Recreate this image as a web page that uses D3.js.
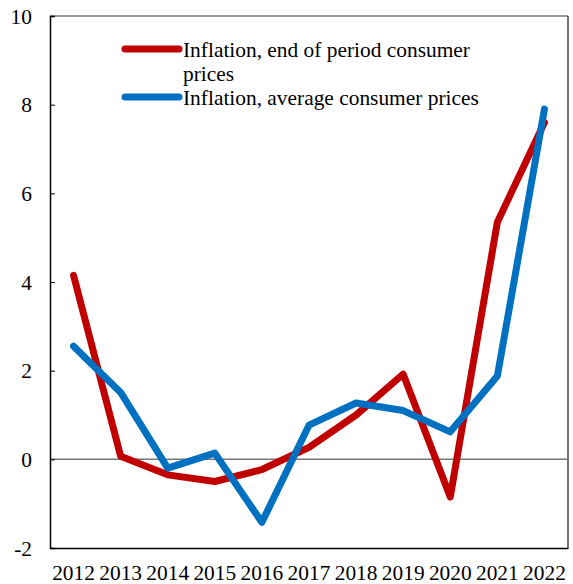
<!DOCTYPE html>
<html>
<head>
<meta charset="utf-8">
<script src="https://cdn.jsdelivr.net/npm/d3@7"></script>
<style>
  body { margin: 0; background: #fff; }
</style>
</head>
<body>
<div id="chart"></div>
<script>
const years = ["2012", "2013", "2014", "2015", "2016", "2017", "2018", "2019", "2020", "2021", "2022"];
const endOfPeriod = [4.15, 0.07, -0.35, -0.5, -0.23, 0.27, 1.0, 1.92, -0.85, 5.35, 7.6];
const average = [2.55, 1.51, -0.2, 0.14, -1.42, 0.77, 1.27, 1.1, 0.62, 1.88, 7.9];
const yTicks = [-2, 0, 2, 4, 6, 8, 10];
const seriesNames = ["Inflation, end of period consumer prices", "Inflation, average consumer prices"];

const width = 573, height = 584;
const margin = { top: 16, right: 5, bottom: 36, left: 50 };
const serif = "'Liberation Serif'";
const fontSize = "21.4px";

const svg = d3.select("#chart").append("svg")
  .attr("width", width).attr("height", height);

const x = d3.scaleBand().domain(years)
  .range([margin.left, width - margin.right]);
const y = d3.scaleLinear().domain([-2, 10])
  .range([height - margin.bottom, margin.top]);

const xc = (d) => x(d) + x.bandwidth() / 2;

// frame
svg.append("line")
  .attr("x1", margin.left).attr("x2", width - margin.right)
  .attr("y1", y(10)).attr("y2", y(10))
  .attr("stroke", "#777").attr("stroke-width", 1.5);
svg.append("line")
  .attr("x1", width - margin.right).attr("x2", width - margin.right)
  .attr("y1", y(10)).attr("y2", y(-2))
  .attr("stroke", "#444").attr("stroke-width", 1.5);

// zero line
svg.append("line")
  .attr("x1", margin.left).attr("x2", width - margin.right)
  .attr("y1", y(0)).attr("y2", y(0))
  .attr("stroke", "#777").attr("stroke-width", 1.5);

// y axis
const yAxis = svg.append("g")
  .attr("transform", `translate(${margin.left},0)`)
  .call(d3.axisRight(y).tickValues(yTicks).tickSize(5).tickFormat((d) => String(d)));
yAxis.select(".domain").attr("stroke", "#000").attr("stroke-width", 1.5);
yAxis.selectAll(".tick line").attr("stroke", "#000");
yAxis.selectAll(".tick text")
  .attr("x", -18).attr("text-anchor", "end").attr("dy", "0.33em")
  .style("font-family", serif).style("font-size", fontSize).attr("fill", "#000");

// x axis
const xAxis = svg.append("g")
  .attr("transform", `translate(0,${y(-2)})`)
  .call(d3.axisBottom(x).tickSize(0));
xAxis.select(".domain").attr("stroke", "#000").attr("stroke-width", 1.5);
xAxis.selectAll(".tick text").attr("dy", 0).attr("y", 31.5)
  .style("font-family", serif).style("font-size", fontSize).attr("fill", "#000");

// lines
const line = d3.line().x((d, i) => xc(years[i])).y((d) => y(d));

svg.append("path").datum(endOfPeriod)
  .attr("d", line).attr("fill", "none")
  .attr("stroke", "#C00000").attr("stroke-width", 7)
  .attr("stroke-linejoin", "round").attr("stroke-linecap", "round");

svg.append("path").datum(average)
  .attr("d", line).attr("fill", "none")
  .attr("stroke", "#0070C0").attr("stroke-width", 7)
  .attr("stroke-linejoin", "round").attr("stroke-linecap", "round");

// legend
const legend = svg.append("g");
legend.append("line").attr("x1", 125).attr("x2", 179).attr("y1", 49).attr("y2", 49)
  .attr("stroke", "#C00000").attr("stroke-width", 7).attr("stroke-linecap", "round");
legend.append("line").attr("x1", 125).attr("x2", 179).attr("y1", 97).attr("y2", 97)
  .attr("stroke", "#0070C0").attr("stroke-width", 7).attr("stroke-linecap", "round");
legend.selectAll("text")
  .data([["Inflation, end of period consumer", 57], ["prices", 81], [seriesNames[1], 105]])
  .join("text")
  .attr("x", 183).attr("y", (d) => d[1])
  .style("font-family", serif).style("font-size", fontSize)
  .text((d) => d[0]);
</script>
</body>
</html>
